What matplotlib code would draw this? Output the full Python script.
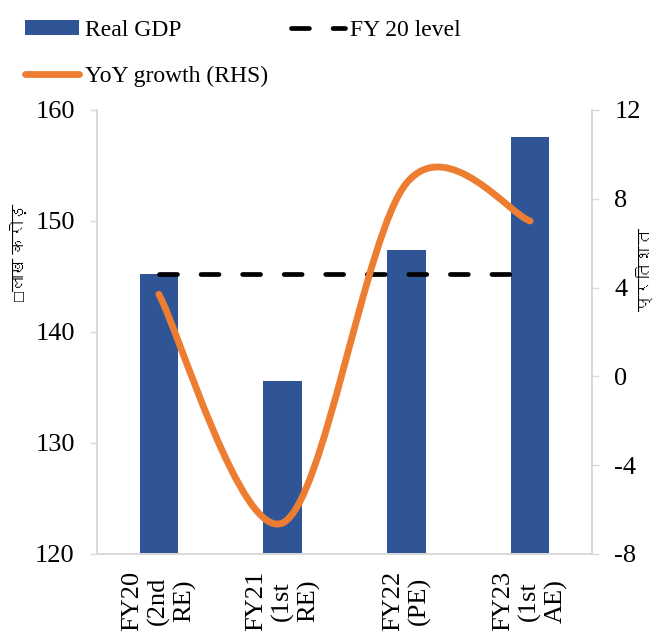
import matplotlib
matplotlib.use("Agg")
import matplotlib.pyplot as plt
import numpy as np
from matplotlib import font_manager
from matplotlib.ft2font import FT2Font
from matplotlib.path import Path
from matplotlib.patches import PathPatch
from matplotlib.lines import Line2D
from matplotlib.patches import Patch

categories = ["FY20\n(2nd\nRE)", "FY21\n(1st\nRE)", "FY22\n(PE)", "FY23\n(1st\nAE)"]
real_gdp = [145.2, 135.6, 147.4, 157.6]
fy20_level = [145.2, 145.2, 145.2, 145.2]
yoy_growth = [3.7, -6.6, 8.7, 7.0]

left_ticks = [120, 130, 140, 150, 160]
right_ticks = [-8, -4, 0, 4, 8, 12]

BAR = "#2F5597"
ORANGE = "#ED7D31"
GRID = "#D9D9D9"


def find_devanagari_family():
    """Look for an installed font that can draw Devanagari."""
    for entry in font_manager.fontManager.ttflist:
        try:
            cmap = FT2Font(entry.fname).get_charmap()
        except Exception:
            continue
        if 0x0915 in cmap and 0x0932 in cmap:
            return entry.name
    return None


def excel_smooth_path(xs, ys):
    """Bezier path like Excel's smoothed line (Catmull-Rom, tension 1/6)."""
    pts = np.column_stack([xs, ys]).astype(float)
    n = len(pts)
    verts = [pts[0]]
    codes = [Path.MOVETO]
    for i in range(n - 1):
        p0 = pts[i - 1] if i > 0 else pts[i]
        p1 = pts[i]
        p2 = pts[i + 1]
        p3 = pts[i + 2] if i + 2 < n else pts[i + 1]
        c1 = p1 + (p2 - p0) / 6.0
        c2 = p2 - (p3 - p1) / 6.0
        verts += [c1, c2, p2]
        codes += [Path.CURVE4] * 3
    return Path(verts, codes)


plt.rcParams["font.family"] = ["Liberation Serif", "DejaVu Sans"]
plt.rcParams["axes.unicode_minus"] = False
deva = find_devanagari_family()
label_family = ["Liberation Serif"] + ([deva] if deva else []) + ["DejaVu Sans"]

fig = plt.figure(figsize=(6.55, 6.34), dpi=100)
ax = fig.add_axes([97 / 655, 80 / 634, 495 / 655, 444 / 634])
ax2 = ax.twinx()

x = np.arange(len(categories))
ax.bar(x, real_gdp, width=0.31, color=BAR, zorder=2)
ax.plot(x, fy20_level, color="black", lw=3.4, dashes=(3.8, 5.0),
        dash_capstyle="round", zorder=3)

curve = PathPatch(excel_smooth_path(x, yoy_growth), facecolor="none",
                  edgecolor=ORANGE, lw=4.9, capstyle="round", zorder=4)
ax2.add_patch(curve)

ax.set_xlim(-0.5, len(categories) - 0.5)
ax.set_ylim(120, 160)
ax.set_yticks(left_ticks)
ax2.set_ylim(-8, 12)
ax2.set_yticks(right_ticks)

ax.set_xticks(x)
ax.set_xticklabels(categories, rotation=90, ha="center", va="top",
                   multialignment="center", fontsize=19)
ax.tick_params(axis="x", length=0, pad=12)
ax.tick_params(axis="y", length=5, width=1, color=GRID, pad=11, labelsize=19)
ax2.tick_params(axis="y", length=5, width=1, color=GRID, pad=11, labelsize=19)

for a in (ax, ax2):
    for name, spine in a.spines.items():
        spine.set_color(GRID)
        spine.set_linewidth(1.2)
    a.spines["top"].set_visible(False)

ax.set_ylabel("\u25a1लाख करोड़", family=label_family, fontsize=12)
ax.yaxis.set_label_coords(-0.138, 0.68)
ax2.set_ylabel("प्रतिशत", family=label_family, fontsize=12, rotation=90)
ax2.yaxis.set_label_coords(1.092, 0.64)

handles = [
    Patch(facecolor=BAR, edgecolor="none"),
    Line2D([], [], color=ORANGE, lw=4.9, solid_capstyle="round"),
    Line2D([], [], color="black", lw=3.4, dashes=(3.8, 5.0), dash_capstyle="round"),
]
labels = ["Real GDP", "YoY growth (RHS)", "FY 20 level"]
fig.legend(handles, labels, ncol=2, loc="upper left",
           bbox_to_anchor=(25 / 655, 1 - 20 / 634), frameon=False,
           fontsize=17, handlelength=2.29, handleheight=0.6,
           handletextpad=0.25, columnspacing=0.95, labelspacing=1.04,
           borderpad=0, borderaxespad=0)

fig.savefig("out.png", dpi=100)
